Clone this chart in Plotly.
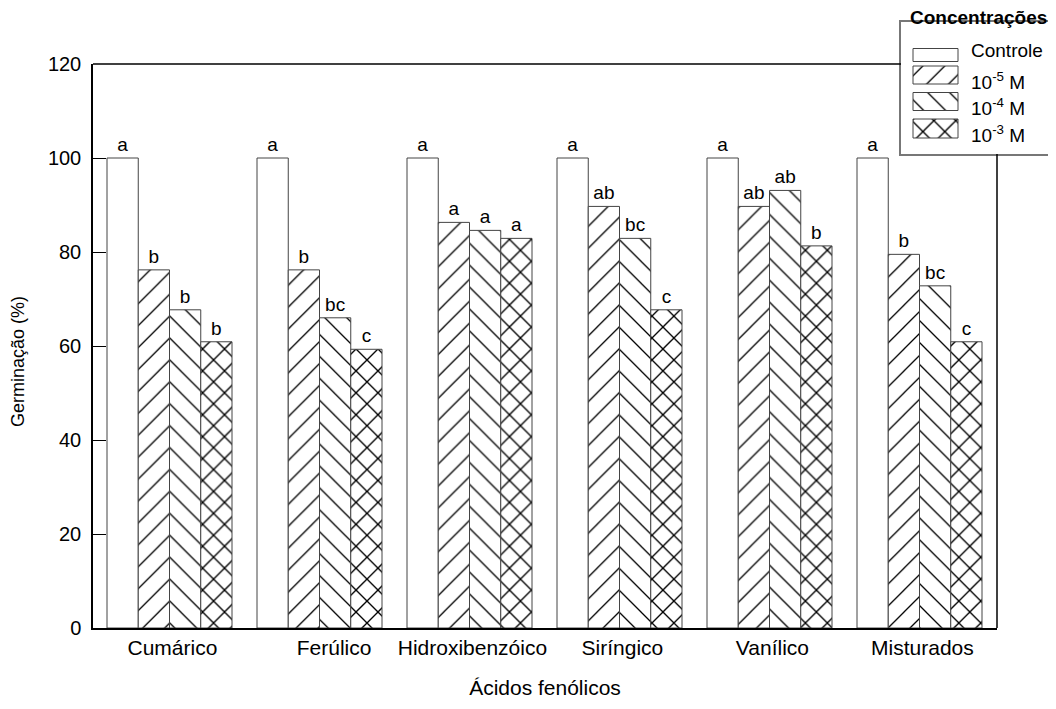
import plotly.graph_objects as go

# ---------------- data ----------------
categories = ["Cumárico", "Ferúlico", "Hidroxibenzóico", "Siríngico", "Vanílico", "Misturados"]
series_names = ["Controle", "10<sup>-5</sup> M", "10<sup>-4</sup> M", "10<sup>-3</sup> M"]
controle = [100, 100, 100, 100, 100, 100]
conc_1e5 = [76.2, 76.2, 86.3, 89.7, 89.7, 79.5]
conc_1e4 = [67.7, 66.0, 84.6, 82.9, 93.1, 72.8]
conc_1e3 = [60.9, 59.3, 82.9, 67.7, 81.3, 60.9]
letters_controle = ["a", "a", "a", "a", "a", "a"]
letters_1e5 = ["b", "b", "a", "ab", "ab", "b"]
letters_1e4 = ["b", "bc", "a", "bc", "ab", "bc"]
letters_1e3 = ["b", "c", "a", "c", "b", "c"]
y_ticks = [0, 20, 40, 60, 80, 100, 120]

values = [controle, conc_1e5, conc_1e4, conc_1e3]
letters = [letters_controle, letters_1e5, letters_1e4, letters_1e3]

# ---------------- styles ----------------
FONT = "Liberation Sans, Arial, sans-serif"
patterns = [
    dict(shape=""),
    dict(shape="/", size=15.5, solidity=0.085, fgcolor="black", bgcolor="white",
         fgopacity=1, fillmode="replace"),
    dict(shape="\\", size=15.5, solidity=0.085, fgcolor="black", bgcolor="white",
         fgopacity=1, fillmode="replace"),
    dict(shape="x", size=15.5, solidity=0.17, fgcolor="black", bgcolor="white",
         fgopacity=1, fillmode="replace"),
]

fig = go.Figure()
for vals, lets, pat, name in zip(values, letters, patterns, series_names):
    fig.add_trace(go.Bar(
        x=categories, y=vals, name=name, text=lets,
        textposition="outside", constraintext="none", cliponaxis=False,
        textfont=dict(family=FONT, size=19, color="black"),
        marker=dict(color="white", line=dict(color="#444", width=1), pattern=pat),
        showlegend=False, xaxis="x", yaxis="y",
    ))

# page geometry (the page body adds an 8px offset)
OFF = 8
W, H = 1056, 709
plot_left, plot_right, plot_top, plot_bottom = 93, 997, 64, 628
leg_left, leg_top, leg_bottom = 901, 22, 154
ml = plot_left - OFF
mt = 0
mb = H - (plot_bottom - OFF)
mr = 0
pw, ph = W - ml - mr, H - mt - mb
leg_w = plot_left + pw - leg_left   # width of the legend inset in px

def px_x(p):
    return (p - plot_left) / pw

def px_y(p):
    return (plot_bottom - p) / ph

# ---- custom legend drawn in an inset axis (wide swatches like the original) ----
leg_rows = [33, 53, 79.5, 106.5]     # px from legend top
leg_heights = [13, 18, 18, 19]
leg_text_rows = [28, 59, 85, 112]
sw_x0, sw_len = 12 / leg_w, 45 / leg_w
for i, (pat, name) in enumerate(zip(patterns, series_names)):
    fig.add_trace(go.Bar(
        x=[sw_len], base=[sw_x0], y=[leg_rows[i]], width=[leg_heights[i]],
        orientation="h", xaxis="x2", yaxis="y2", showlegend=False, hoverinfo="skip",
        marker=dict(color="white", line=dict(color="#444", width=1), pattern=pat),
    ))
    fig.add_annotation(x=68 / leg_w, y=leg_text_rows[i], xref="x2", yref="y2", text=name,
                       showarrow=False, xanchor="left", yanchor="middle",
                       font=dict(family=FONT, size=19, color="black"))

fig.add_annotation(x=px_x(978), y=px_y(18), xref="paper", yref="paper",
                   text="<b>Concentrações</b>", showarrow=False, xanchor="center", yanchor="middle",
                   font=dict(family=FONT, size=19, color="black"))

# y-axis title (placed like the original, slightly below the axis centre)
fig.add_annotation(x=px_x(18), y=px_y(362), xref="paper", yref="paper",
                   text="Germinação (%)", textangle=-90, showarrow=False,
                   xanchor="center", yanchor="middle",
                   font=dict(family=FONT, size=18, color="black"))

# frame lines of the main plot that stop at the legend box
fig.add_shape(type="line", xref="x domain", yref="y domain",
              x0=0, x1=(leg_left - plot_left) / (plot_right - plot_left), y0=1, y1=1,
              line=dict(color="black", width=1.5))
fig.add_shape(type="line", xref="x domain", yref="y domain",
              x0=1, x1=1, y0=0, y1=(plot_bottom - leg_bottom) / (plot_bottom - plot_top),
              line=dict(color="black", width=1.5))

nb = "\u00a0"
tick_text = [nb * 5 + c if c == "Ferúlico" else nb + c for c in categories]

fig.update_layout(
    width=W, height=H,
    margin=dict(l=ml, r=mr, t=mt, b=mb, pad=0, autoexpand=False),
    paper_bgcolor="white", plot_bgcolor="rgba(0,0,0,0)",
    barmode="group", bargap=25 / 150, bargroupgap=0,
    font=dict(family=FONT, size=20, color="black"),
    xaxis=dict(
        domain=[0, px_x(plot_right)],
        range=[-0.51, -0.51 + (plot_right - plot_left) / 150],
        tickvals=categories, ticktext=tick_text,
        showline=True, linecolor="black", linewidth=1.5, mirror=False,
        ticks="", showgrid=False, zeroline=False,
        tickfont=dict(family=FONT, size=21, color="black"), ticklabelstandoff=0,
        title=dict(text="Ácidos fenólicos", font=dict(family=FONT, size=21, color="black"), standoff=22),
    ),
    yaxis=dict(
        domain=[0, px_y(plot_top)],
        range=[0, 120], tickvals=y_ticks,
        showline=True, linecolor="black", linewidth=1.5, mirror=False,
        ticks="inside", ticklen=13, tickcolor="black", tickwidth=1,
        showgrid=False, zeroline=False,
        tickfont=dict(family=FONT, size=20, color="black"), ticklabelstandoff=6,
    ),
    xaxis2=dict(
        domain=[px_x(leg_left), 1], range=[0, 1], anchor="y2",
        showline=True, mirror=True, linecolor="#777", linewidth=1.5,
        showticklabels=False, ticks="", showgrid=False, zeroline=False, fixedrange=True,
    ),
    yaxis2=dict(
        domain=[px_y(leg_bottom), px_y(leg_top)],
        range=[leg_bottom - leg_top, 0], anchor="x2",
        showline=True, mirror=False, linecolor="#777", linewidth=1.5,
        showticklabels=False, ticks="", showgrid=False, zeroline=False, fixedrange=True,
    ),
)

fig.write_html("out.html")
